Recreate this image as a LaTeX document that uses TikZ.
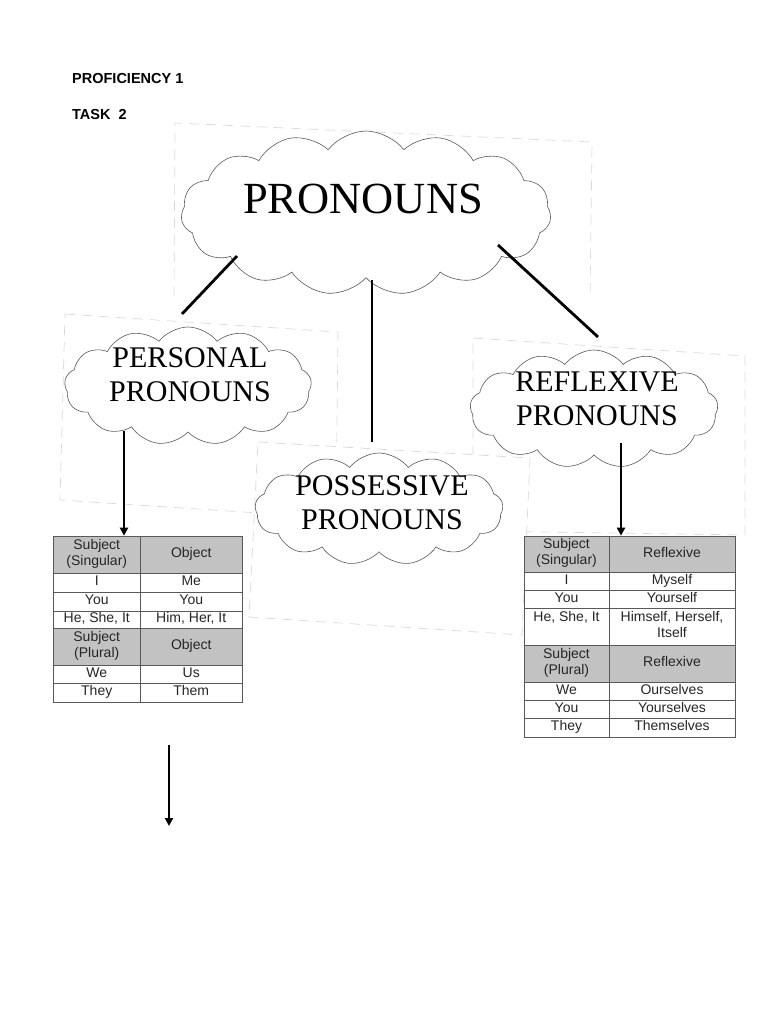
\documentclass[tikz,border=0pt]{standalone}
\usepackage{fontspec}
\setmainfont{Liberation Serif}
\setsansfont{Liberation Sans}
\usetikzlibrary{positioning, shapes.symbols, arrows.meta}

\definecolor{hdrgray}{gray}{0.76}
\definecolor{rulegray}{gray}{0.35}

\tikzset{
  bubble/.style = {cloud, cloud puffs=13, cloud puff arc=105, cloud ignores aspect,
    draw=rulegray, line width=0.6pt, fill=white, inner sep=0pt},
  cloudtext/.style = {align=center, inner sep=0pt, font=\fontsize{30}{34}\selectfont},
  link/.style = {line width=2.8pt},
  pointer/.style = {line width=2.2pt, -{Triangle[width=8pt,length=8pt]}},
  ghost/.style = {draw=gray!30, dash pattern=on 10pt off 7pt, line width=0.7pt},
  cell/.style = {draw=rulegray, line width=0.6pt, inner sep=0pt, align=center,
    text=black!85, font=\sffamily\fontsize{14}{16}\selectfont,
    execute at begin node=\strut, execute at end node=\strut},
  heading/.style = {anchor=base west, inner sep=0pt,
    font=\sffamily\bfseries\fontsize{14.5}{17}\selectfont}
}

\begin{document}
\begin{tikzpicture}[x=1pt, y=-1pt]
    \useasboundingbox (0,0) rectangle (768,1024);

    \node [heading] (prof) at (72,83.5) {PROFICIENCY 1};
    \node [heading] (task) at (72,119.5) {TASK\ \ 2};

    % faint frames of the pasted boxes
    \draw [ghost] (174,296) -- (175,123) -- (592,142) -- (590,300);
    \draw [ghost] (473,338) -- (745,356) -- (745,535) -- (473,531) -- cycle;
    \draw [ghost] (65,314) -- (338,332) -- (336,518) -- (60,500) -- cycle;
    \draw [ghost, fill=white] (258,442) -- (530,458) -- (522,635) -- (249,617) -- cycle;

    % clouds
    \node [bubble, cloud puffs=15, minimum width=370pt, minimum height=164pt] (pron) at (366,213) {};
    \node [bubble, minimum width=247pt, minimum height=118pt] (pers) at (188,386) {};
    \node [bubble, minimum width=248pt, minimum height=112pt] (poss) at (379,509) {};
    \node [bubble, minimum width=248pt, minimum height=118pt] (refl) at (594,409) {};

    \node [cloudtext, font=\fontsize{44.5}{50}\selectfont] (pronword) at ([xshift=-3pt, yshift=14pt]pron.center) {PRONOUNS};
    \node [cloudtext] (persword) at ([xshift=2pt, yshift=11pt]pers.center) {PERSONAL\\PRONOUNS};
    \node [cloudtext] (possword) at ([xshift=3pt, yshift=6.5pt]poss.center) {POSSESSIVE\\PRONOUNS};
    \node [cloudtext] (reflword) at ([xshift=3pt, yshift=10pt]refl.center) {REFLEXIVE\\PRONOUNS};

    % connectors
    \coordinate (c1) at (237,256);
    \coordinate (c2) at (182,314);
    \coordinate (c3) at (372,280);
    \coordinate (c4) at (372,442);
    \coordinate (c5) at (498,245);
    \coordinate (c6) at (598,337);
    \draw [link] (c1) -- (c2);
    \draw [link] (c3) -- (c4);
    \draw [link] (c5) -- (c6);

    % personal pronouns table
    \foreach \n/\t/\b/\f/\a/\c in {
        1/536/573/hdrgray/{Subject\\(Singular)}/Object,
        2/573/592/white/I/Me,
        3/592/611/white/You/You,
        4/611/628/white/{He, She, It}/{Him, Her, It},
        5/628/665/hdrgray/{Subject\\(Plural)}/Object,
        6/665/683/white/We/Us,
        7/683/702/white/They/Them} {
        \node [cell, fill=\f, minimum width=86.5pt, minimum height={(\b-\t)*1pt}] (LA\n) at (96.75,{(\t+\b)/2}) {\a};
        \node [cell, fill=\f, minimum width=102.5pt, minimum height={(\b-\t)*1pt}] (LB\n) at (191.25,{(\t+\b)/2}) {\c};
    }

    % reflexive pronouns table
    \foreach \n/\t/\b/\f/\a/\c in {
        1/536/572/hdrgray/{Subject\\(Singular)}/Reflexive,
        2/572/590/white/I/Myself,
        3/590/608/white/You/Yourself,
        4/608/645/white/{He, She, It\\\mbox{}}/{Himself, Herself,\\Itself},
        5/645/682/hdrgray/{Subject\\(Plural)}/Reflexive,
        6/682/700/white/We/Ourselves,
        7/700/718/white/You/Yourselves,
        8/718/737/white/They/Themselves} {
        \node [cell, fill=\f, minimum width=85pt, minimum height={(\b-\t)*1pt}] (RA\n) at (566.5,{(\t+\b)/2}) {\a};
        \node [cell, fill=\f, minimum width=126pt, minimum height={(\b-\t)*1pt}] (RB\n) at (672,{(\t+\b)/2}) {\c};
    }

    % arrows
    \coordinate (a1) at (124,431);
    \coordinate (a2) at (621,443);
    \coordinate (a3) at (169,745);
    \coordinate (a4) at (169,826);
    \draw [pointer] (a1) -- (a1 |- LB1.north);
    \draw [pointer] (a2) -- (a2 |- RB1.north);
    \draw [pointer] (a3) -- (a4);
\end{tikzpicture}
\end{document}
